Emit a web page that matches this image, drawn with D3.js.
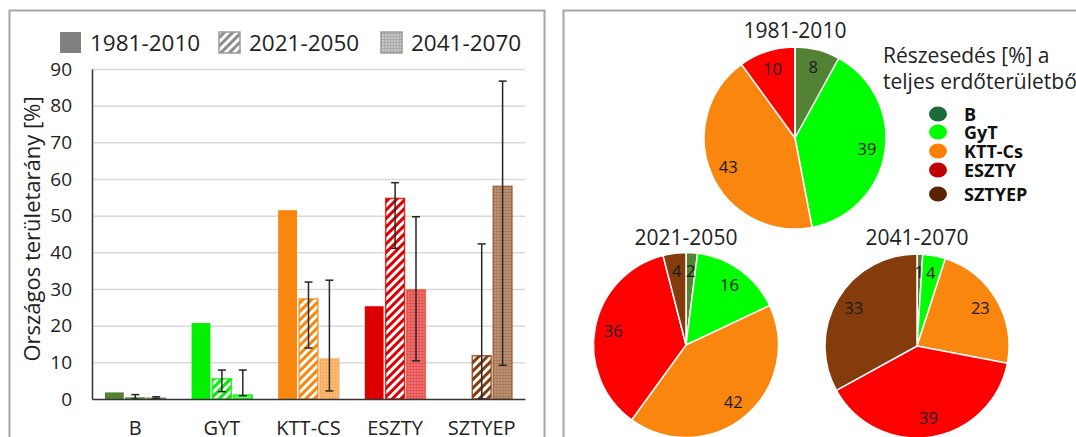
<!DOCTYPE html>
<html>
<head>
<meta charset="utf-8">
<script src="https://cdn.jsdelivr.net/npm/d3@7"></script>
<style>
  body { margin: 0; background: #fff; }
  svg { display: block; font-family: "Open Sans", sans-serif; }
</style>
</head>
<body>
<svg id="chart" width="1076" height="437"></svg>
<script>
// bar chart data
var categories = ["B", "GYT", "KTT-CS", "ESZTY", "SZTYEP"];
var periods = ["1981-2010", "2021-2050", "2041-2070"];
var v1981 = [1.8, 20.7, 51.5, 25.3, 0];
var v2021 = [0.3, 5.5, 27.3, 54.7, 11.8];
var v2041 = [0.2, 1.1, 10.9, 29.8, 58];
var err2021Lo = [0, 2.0, 13.9, 41.1, 0];
var err2021Hi = [1.2, 7.9, 31.9, 59, 42.3];
var err2041Lo = [0.1, 0.9, 2.2, 10.4, 9.2];
var err2041Hi = [0.6, 7.9, 32.4, 49.7, 86.7];
var yTicks = [0, 10, 20, 30, 40, 50, 60, 70, 80, 90];

// pie data
var pieGroups = ["B", "GyT", "KTT-Cs", "ESZTY", "SZTYEP"];
var share1981 = [8, 39, 43, 10, 0];
var share2021 = [2, 16, 42, 36, 4];
var share2041 = [1, 4, 23, 39, 33];

// colours
var barColor = ["#548235", "#00f000", "#f8860f", "#dc0000", "#843c0c"];
var gridBorder = ["#548235", "#00f000", "#f9a55c", "#d9603a", "#9a5632"];
var pieColor = ["#548235", "#00ff00", "#f8860f", "#ff0000", "#843c0c"];
var markColor = ["#1e6b3a", "#00ff00", "#ff8000", "#c00000", "#5a2300"];
var textCol = "#222";

var svg = d3.select("#chart");
var defs = svg.append("defs");

// panel frames
svg.append("rect")
  .attr("x", 9.5).attr("y", 10.5).attr("width", 535).attr("height", 500)
  .attr("fill", "none").attr("stroke", "#a6a6a6").attr("stroke-width", 2);
svg.append("path")
  .attr("d", "M563.5,440V10.5H1080")
  .attr("fill", "none").attr("stroke", "#a6a6a6").attr("stroke-width", 2);

// patterns
barColor.forEach(function (c, i) {
  var h = defs.append("pattern")
    .attr("id", "hatch" + i)
    .attr("patternUnits", "userSpaceOnUse")
    .attr("width", 6).attr("height", 6)
    .attr("patternTransform", "rotate(45)");
  h.append("rect").attr("width", 6).attr("height", 6).attr("fill", "#fff");
  h.append("rect").attr("width", 3).attr("height", 6).attr("fill", c);

  var g = defs.append("pattern")
    .attr("id", "grid" + i)
    .attr("patternUnits", "userSpaceOnUse")
    .attr("width", 3).attr("height", 3);
  g.append("rect").attr("width", 3).attr("height", 3)
    .attr("fill", d3.interpolateRgb(c, "#fff")(0.45));
  g.append("path").attr("d", "M0,0.5H3M0.5,0V3")
    .attr("stroke", c).attr("stroke-opacity", 0.25).attr("stroke-width", 1);
});

// legend squares patterns (gray)
var lh = defs.append("pattern")
  .attr("id", "hatchGray").attr("patternUnits", "userSpaceOnUse")
  .attr("width", 6).attr("height", 6).attr("patternTransform", "rotate(45)");
lh.append("rect").attr("width", 6).attr("height", 6).attr("fill", "#fff");
lh.append("rect").attr("width", 3).attr("height", 6).attr("fill", "#8c8c8c");
var lg = defs.append("pattern")
  .attr("id", "gridGray").attr("patternUnits", "userSpaceOnUse")
  .attr("width", 3).attr("height", 3);
lg.append("rect").attr("width", 3).attr("height", 3).attr("fill", "#c8c8c8");
lg.append("path").attr("d", "M0,0.5H3M0.5,0V3")
  .attr("stroke", "#aaa").attr("stroke-width", 1);

// scales
var x0 = d3.scaleBand().domain(categories).range([92, 525])
  .paddingInner(0.3).paddingOuter(0.15);
var x1 = d3.scaleBand().domain(periods).range([0, x0.bandwidth()])
  .paddingInner(0.1).paddingOuter(0);
var y = d3.scaleLinear().domain([0, 90]).range([399, 69]);

// gridlines
svg.append("g")
  .attr("transform", "translate(92,0)")
  .call(d3.axisLeft(y).tickValues(yTicks.slice(1)).tickSize(-433).tickFormat(""))
  .call(function (g) { g.select(".domain").remove(); })
  .selectAll("line").attr("stroke", "#d9d9d9").attr("stroke-width", 1.5);

// y axis
var yAxis = svg.append("g")
  .attr("transform", "translate(92,0)")
  .call(d3.axisLeft(y).tickValues(yTicks).tickSize(0).tickPadding(20));
yAxis.select(".domain").attr("stroke", "#333").attr("stroke-width", 1.5);
yAxis.selectAll("text")
  .attr("font-family", "Open Sans").attr("font-size", "19px").attr("fill", textCol);

svg.append("text")
  .attr("transform", "translate(40,229) rotate(-90)")
  .attr("text-anchor", "middle")
  .attr("font-size", "22px").attr("fill", textCol)
  .text("Országos területarány [%]");

// bars
var rows = categories.map(function (c, i) {
  return [
    { cat: c, i: i, p: periods[0], v: v1981[i], fill: barColor[i], stroke: "none" },
    { cat: c, i: i, p: periods[1], v: v2021[i], fill: "url(#hatch" + i + ")", stroke: barColor[i], lo: err2021Lo[i], hi: err2021Hi[i] },
    { cat: c, i: i, p: periods[2], v: v2041[i], fill: "url(#grid" + i + ")", stroke: gridBorder[i], lo: err2041Lo[i], hi: err2041Hi[i] }
  ];
});

var grp = svg.selectAll(".grp").data(rows).enter().append("g")
  .attr("class", "grp")
  .attr("transform", function (d) { return "translate(" + x0(d[0].cat) + ",0)"; });

grp.selectAll("rect").data(function (d) { return d; }).enter().append("rect")
  .attr("x", function (d) { return x1(d.p); })
  .attr("width", x1.bandwidth())
  .attr("y", function (d) { return y(d.v); })
  .attr("height", function (d) { return y(0) - y(d.v); })
  .attr("fill", function (d) { return d.fill; })
  .attr("stroke", function (d) { return d.stroke; })
  .attr("stroke-width", 1.5)
  .attr("stroke-opacity", 0.8);

// error bars
var eb = grp.selectAll(".eb").data(function (d) { return d.filter(function (e) { return e.hi != null; }); })
  .enter().append("g").attr("class", "eb")
  .attr("stroke", "#262626").attr("stroke-width", 1.5);
eb.append("line")
  .attr("x1", function (d) { return x1(d.p) + x1.bandwidth() / 2; })
  .attr("x2", function (d) { return x1(d.p) + x1.bandwidth() / 2; })
  .attr("y1", function (d) { return y(d.lo); })
  .attr("y2", function (d) { return y(d.hi); });
["lo", "hi"].forEach(function (k) {
  eb.append("line")
    .attr("x1", function (d) { return x1(d.p) + x1.bandwidth() / 2 - 4; })
    .attr("x2", function (d) { return x1(d.p) + x1.bandwidth() / 2 + 4; })
    .attr("y1", function (d) { return y(d[k]); })
    .attr("y2", function (d) { return y(d[k]); });
});

// x axis
var xAxis = svg.append("g")
  .attr("transform", "translate(0,399)")
  .call(d3.axisBottom(x0).tickSize(0).tickPadding(20));
xAxis.select(".domain").attr("stroke", "#333").attr("stroke-width", 1.5);
xAxis.selectAll("text")
  .attr("font-family", "Open Sans").attr("font-size", "20px").attr("fill", textCol)
  .attr("dy", null).attr("y", 36);

// bar legend
var legX = [60, 219, 381];
var legFill = ["#808080", "url(#hatchGray)", "url(#gridGray)"];
periods.forEach(function (p, i) {
  svg.append("rect")
    .attr("x", legX[i]).attr("y", 32).attr("width", 21).attr("height", 21)
    .attr("fill", legFill[i])
    .attr("stroke", i ? "#9a9a9a" : "none").attr("stroke-width", 1.5);
  svg.append("text")
    .attr("x", legX[i] + 30).attr("y", 51)
    .attr("font-size", "22.5px").attr("fill", textCol)
    .text(p);
});

// pies
var pies = [
  { title: periods[0], vals: share1981, cx: 795, cy: 138, r: 91, ty: 38 },
  { title: periods[1], vals: share2021, cx: 686, cy: 345, r: 92.5, ty: 245 },
  { title: periods[2], vals: share2041, cx: 917, cy: 346, r: 92, ty: 245 }
];
var pie = d3.pie().sort(null).value(function (d) { return d; });

pies.forEach(function (pd) {
  var arc = d3.arc().innerRadius(0).outerRadius(pd.r);
  var lab = d3.arc().innerRadius(pd.r * 0.8).outerRadius(pd.r * 0.8);
  var g = svg.append("g").attr("transform", "translate(" + pd.cx + "," + pd.cy + ")");
  var slices = pie(pd.vals);
  g.selectAll("path").data(slices).enter().append("path")
    .attr("d", arc)
    .attr("fill", function (d, i) { return pieColor[i]; })
    .attr("stroke", "#fff").attr("stroke-width", 1.5);
  g.selectAll("text").data(slices.filter(function (d) { return d.value > 0; }))
    .enter().append("text")
    .attr("transform", function (d) { return "translate(" + lab.centroid(d) + ")"; })
    .attr("text-anchor", "middle").attr("dy", "0.35em")
    .attr("font-size", "16.5px").attr("fill", "#1a1a1a")
    .text(function (d) { return d.value; });
  svg.append("text")
    .attr("x", pd.cx).attr("y", pd.ty)
    .attr("text-anchor", "middle")
    .attr("font-size", "21px").attr("fill", textCol)
    .text(pd.title);
});

// pie legend
svg.append("text")
  .attr("x", 883).attr("y", 63)
  .attr("font-size", "21px").attr("fill", textCol)
  .text("Részesedés [%] a");
svg.append("text")
  .attr("x", 883).attr("y", 89)
  .attr("font-size", "21px").attr("fill", textCol)
  .text("teljes erdőterületből");

var legY = [114, 132, 151, 170, 194];
pieGroups.forEach(function (n, i) {
  svg.append("ellipse")
    .attr("cx", 938).attr("cy", legY[i]).attr("rx", 9).attr("ry", 7.5)
    .attr("fill", markColor[i]);
  svg.append("text")
    .attr("x", 964).attr("y", legY[i] + 6.5)
    .attr("font-size", "18px").attr("font-weight", "bold").attr("fill", "#111")
    .text(n);
});
</script>
</body>
</html>
